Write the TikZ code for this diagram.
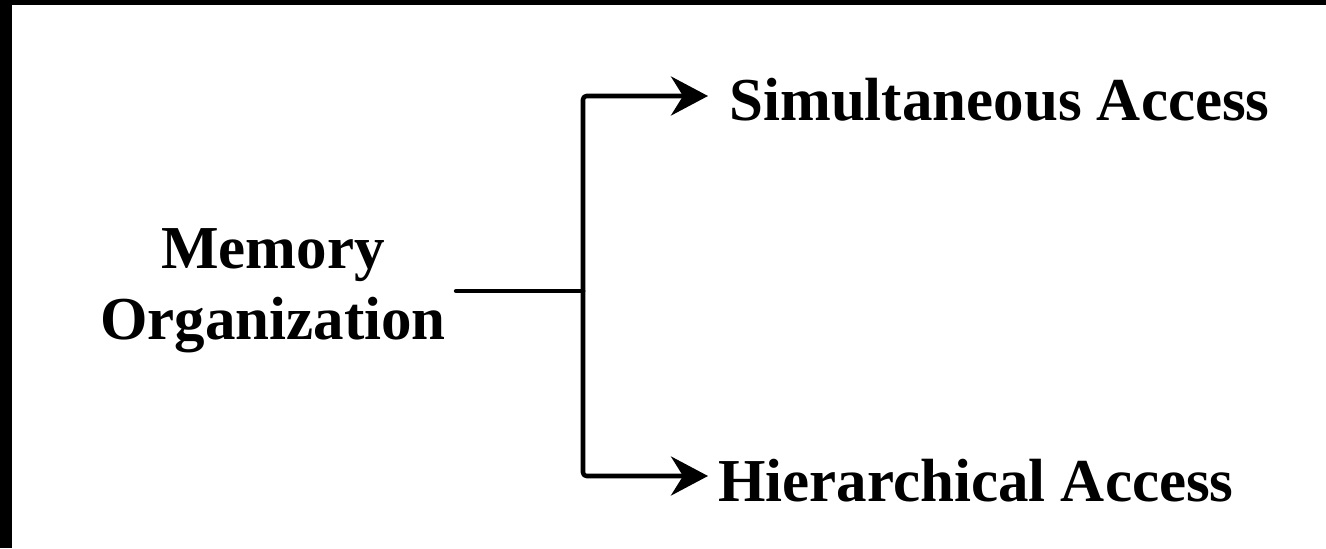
\documentclass[tikz,border=0pt]{standalone}
\usepackage{fontspec}
\setmainfont{Liberation Serif}
\usetikzlibrary{arrows.meta}
\begin{document}
\begin{tikzpicture}[line join=round,line cap=round,x=1cm,y=1cm,
	font=\fontsize{34.7pt}{40.4pt}\selectfont\bfseries,
	conn/.style={line width=2.6pt,rounded corners=2pt},
	tip/.style={-{Stealth[length=0.74cm,width=0.78cm]}},
	lbl/.style={anchor=west,inner xsep=0.42cm,inner ysep=0pt,text height=1cm,text depth=0pt}]
	\useasboundingbox (0,0) rectangle (26.52,10.96);
	\fill (0,10.86) rectangle (26.52,10.96);
	\fill (0,0) rectangle (0.24,10.96);
	\node[align=center,inner xsep=0.2cm] (mem) at (5.46,5.14) {Memory\\Organization};
	\coordinate (fork) at (mem.east -| 11.66,0);
	\node[lbl] (sim) at (14.16,9.04) {Simultaneous Access};
	\node[lbl,inner xsep=0.2cm] (hier) at (14.16,1.44) {Hierarchical Access};
	\draw[conn] (mem.east) -- (fork);
	\draw[conn,tip] (fork) |- (sim.west);
	\draw[conn,tip] (fork) |- (hier.west);
\end{tikzpicture}
\end{document}
